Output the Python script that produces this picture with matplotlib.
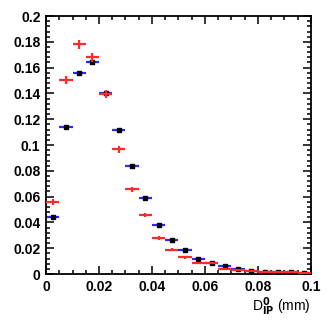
import matplotlib
matplotlib.use("Agg")
import matplotlib.pyplot as plt
from matplotlib.ticker import MultipleLocator, FuncFormatter
import numpy as np

# bin edges of the D_IP^0 histogram (mm)
bin_lo = np.arange(0.0, 0.1, 0.005)
bin_w = 0.005

# blue distribution (black markers)
blue_vals = [0.0444, 0.1142, 0.1560, 0.1646, 0.1400, 0.1116, 0.0840, 0.0592,
             0.0382, 0.0260, 0.0188, 0.0120, 0.0088, 0.0060, 0.0038, 0.0026,
             0.0018, 0.0013, 0.0012, 0.0010]
blue_err = [0.0008, 0.0012, 0.0014, 0.0014, 0.0013, 0.0012, 0.0010, 0.0009,
            0.0007, 0.0006, 0.0005, 0.0004, 0.0003, 0.0003, 0.0002, 0.0002,
            0.0002, 0.0001, 0.0001, 0.0001]

# red distribution
red_vals = [0.0560, 0.1504, 0.1783, 0.1680, 0.1393, 0.0969, 0.0656, 0.0457,
            0.0277, 0.0187, 0.0129, 0.0088, 0.0086, 0.0042, 0.0032, 0.0026,
            0.0018, 0.0013, 0.0012, 0.0010]
red_err = [0.0022, 0.0032, 0.0035, 0.0034, 0.0031, 0.0027, 0.0022, 0.0018,
           0.0014, 0.0012, 0.0010, 0.0008, 0.0008, 0.0006, 0.0005, 0.0004,
           0.0003, 0.0003, 0.0003, 0.0002]

plt.rcParams["font.family"] = ["Liberation Sans Narrow", "Liberation Sans", "DejaVu Sans"]
plt.rcParams["font.weight"] = "bold"
plt.rcParams["mathtext.fontset"] = "custom"
plt.rcParams["mathtext.rm"] = "Liberation Sans Narrow:bold"
plt.rcParams["mathtext.it"] = "Liberation Sans Narrow:bold"
plt.rcParams["mathtext.bf"] = "Liberation Sans Narrow:bold"

fig = plt.figure(figsize=(3.27, 3.27), dpi=100)
ax = fig.add_axes([0.1407, 0.162, 0.8103, 0.789])

centers = bin_lo + bin_w / 2

# red histogram: horizontal bin width + vertical errors, no marker
ax.errorbar(centers, red_vals, xerr=bin_w / 2, yerr=red_err, fmt="none",
            ecolor="#ff2a2a", elinewidth=1.6, capsize=0, zorder=3)

# blue histogram with small black square markers
ax.errorbar(centers, blue_vals, xerr=bin_w / 2, yerr=blue_err, fmt="s",
            color="black", markersize=3.4, ecolor="#2a2aff", elinewidth=1.6,
            capsize=0, zorder=2)

ax.set_xlim(0, 0.1)
ax.set_ylim(0, 0.2)

ax.xaxis.set_major_locator(MultipleLocator(0.02))
ax.xaxis.set_minor_locator(MultipleLocator(0.005))
ax.yaxis.set_major_locator(MultipleLocator(0.02))
ax.yaxis.set_minor_locator(MultipleLocator(0.004))

fmt = FuncFormatter(lambda v, p: "%g" % round(v, 4))
ax.xaxis.set_major_formatter(fmt)
ax.yaxis.set_major_formatter(fmt)

ax.tick_params(which="both", direction="in", top=True, right=True, width=1.1,
               labelsize=10)
ax.tick_params(which="major", length=5.5, pad=4)
ax.tick_params(which="minor", length=2.8)
for s in ax.spines.values():
    s.set_linewidth(1.3)

ax.set_xlabel(r"D$_{\mathrm{IP}}^{0}$ (mm)", loc="right", fontsize=10, labelpad=1)

fig.savefig("out.png", dpi=100)
